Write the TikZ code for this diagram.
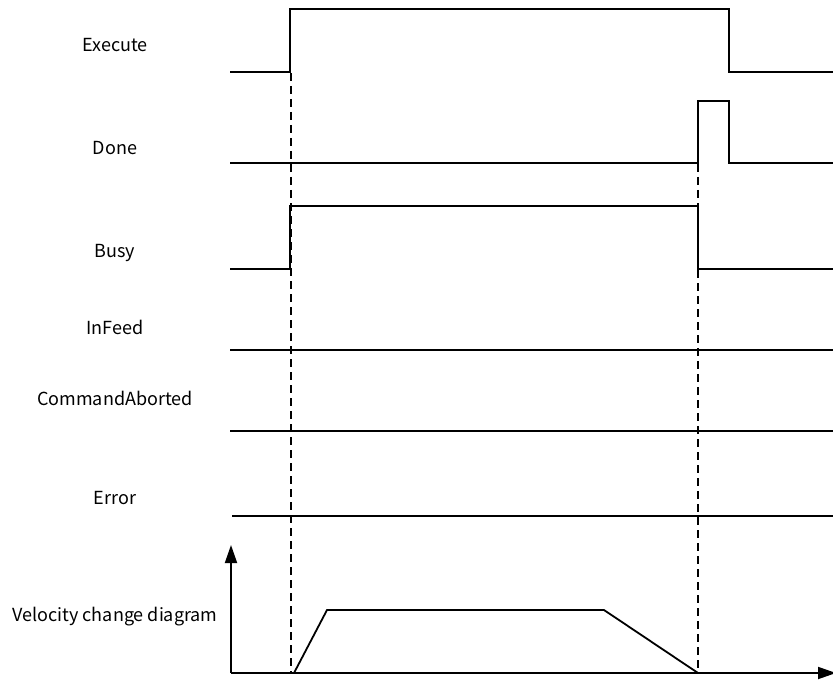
\documentclass[tikz,border=0pt]{standalone}
\usepackage{fontspec}
\setmainfont{Noto Sans CJK SC}
\usetikzlibrary{arrows.meta}
\begin{document}
\begin{tikzpicture}[x=1pt,y=-1pt,
  sig/.style={line width=1.8pt,line join=miter},
  guide/.style={line width=1.3pt,dash pattern=on 8pt off 5pt},
  lbl/.style={font=\fontsize{18}{21}\selectfont,anchor=center,inner sep=0pt},
  axis/.style={line width=1.8pt,-{Triangle[length=18pt,width=12pt]}}]
\useasboundingbox (0,0) rectangle (833,682);
% labels
\node[lbl] (lExec) at (115,45) {Execute};
\node[lbl] (lDone) at (115,148) {Done};
\node[lbl] (lBusy) at (115,253) {Busy};
\node[lbl] (lInF) at (115,327) {InFeed};
\node[lbl] (lCA) at (115,398) {CommandAborted};
\node[lbl] (lErr) at (115,498) {Error};
\node[lbl] (lVel) at (115,617) {Velocity change diagram};
% Execute
\draw[sig] (230,72) -- (290,72) -- (290,9) -- (729,9) -- (729,72) -- (833,72);
% Done
\draw[sig] (230,163) -- (698,163) -- (698,101) -- (729,101) -- (729,163) -- (833,163);
% Busy
\draw[sig] (230,269) -- (290,269) -- (290,206) -- (698,206) -- (698,269) -- (833,269);
% InFeed, CommandAborted, Error
\draw[sig] (230,350) -- (833,350);
\draw[sig] (230,431) -- (833,431);
\draw[sig] (232,516) -- (833,516);
% axes
\coordinate (o) at (231,673);
\coordinate (ytop) at (231,545);
\coordinate (xend) at (836,673);
\draw[axis] (o) -- (ytop);
\draw[axis] (o) -- (xend);
% velocity profile
\coordinate (v0) at (294,673);
\coordinate (v1) at (327,610);
\coordinate (v2) at (604,610);
\coordinate (v3) at (698,673);
\draw[sig] (v0) -- (v1) -- (v2) -- (v3);
% dashed guides
\draw[guide] (291,73) -- (291,673);
\draw[guide] (698,164) -- (698,206);
\draw[guide] (698,270) -- (698,673);
\end{tikzpicture}
\end{document}
